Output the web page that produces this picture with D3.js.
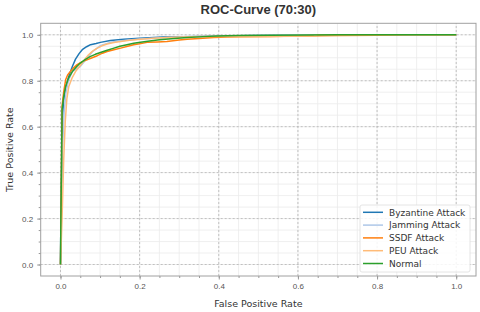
<!DOCTYPE html>
<html>
<head>
<meta charset="utf-8">
<script src="https://cdn.jsdelivr.net/npm/d3@7"></script>
<style>
  body { margin: 0; background: #fff; }
  svg { font-family: "DejaVu Sans", sans-serif; }
</style>
</head>
<body>
<div id="chart"></div>
<script>
// series names + colours
var names = ['Byzantine Attack', 'Jamming Attack', 'SSDF Attack', 'PEU Attack', 'Normal'];
var colours = ['#1f77b4', '#aec7e8', '#ff7f0e', '#ffbb78', '#2ca02c'];

var byz_fpr = [0, 0.001, 0.003, 0.005, 0.008, 0.013, 0.021, 0.03, 0.038, 0.047, 0.055, 0.066, 0.076, 0.09, 0.101, 0.126, 0.16, 0.2, 0.26, 0.35, 0.45, 0.55, 0.7, 1.0];
var byz_tpr = [0, 0.2, 0.45, 0.62, 0.717, 0.77, 0.82, 0.862, 0.894, 0.918, 0.935, 0.948, 0.957, 0.962, 0.967, 0.975, 0.981, 0.985, 0.99, 0.993, 0.996, 0.998, 1.0, 1.0];

var jam_fpr = [0, 0.002, 0.005, 0.009, 0.014, 0.02, 0.03, 0.04, 0.05, 0.067, 0.08, 0.1, 0.126, 0.16, 0.2, 0.27, 0.35, 0.45, 0.6, 1.0];
var jam_tpr = [0, 0.25, 0.5, 0.66, 0.75, 0.8, 0.84, 0.852, 0.862, 0.898, 0.925, 0.952, 0.967, 0.975, 0.982, 0.988, 0.993, 0.996, 1.0, 1.0];

var ssdf_fpr = [0, 0.002, 0.004, 0.008, 0.013, 0.018, 0.025, 0.033, 0.042, 0.054, 0.067, 0.08, 0.093, 0.106, 0.118, 0.135, 0.152, 0.17, 0.185, 0.2, 0.219, 0.245, 0.269, 0.3, 0.32, 0.36, 0.387, 0.42, 0.455, 0.53, 0.6, 0.7, 0.8, 0.876, 1.0];
var ssdf_tpr = [0, 0.3, 0.69, 0.75, 0.804, 0.825, 0.84, 0.856, 0.87, 0.882, 0.891, 0.9, 0.909, 0.92, 0.927, 0.935, 0.942, 0.95, 0.957, 0.961, 0.967, 0.969, 0.971, 0.977, 0.981, 0.985, 0.988, 0.99, 0.991, 0.993, 0.995, 0.997, 0.998, 1.0, 1.0];

var peu_fpr = [0, 0.004, 0.008, 0.012, 0.016, 0.021, 0.03, 0.038, 0.047, 0.055, 0.063, 0.071, 0.082, 0.093, 0.105, 0.118, 0.135, 0.152, 0.175, 0.202, 0.235, 0.269, 0.31, 0.354, 0.45, 0.53, 0.64, 0.65, 1.0];
var peu_tpr = [0, 0.2, 0.45, 0.62, 0.72, 0.775, 0.815, 0.84, 0.86, 0.877, 0.897, 0.913, 0.93, 0.942, 0.952, 0.96, 0.966, 0.971, 0.976, 0.981, 0.985, 0.988, 0.99, 0.992, 0.993, 0.993, 0.995, 1.0, 1.0];

var norm_fpr = [0, 0.001, 0.003, 0.004, 0.008, 0.013, 0.02, 0.03, 0.04, 0.05, 0.063, 0.076, 0.088, 0.101, 0.118, 0.135, 0.15, 0.168, 0.185, 0.202, 0.225, 0.25, 0.28, 0.32, 0.36, 0.396, 0.45, 0.53, 0.7, 1.0];
var norm_tpr = [0, 0.2, 0.5, 0.674, 0.73, 0.775, 0.81, 0.84, 0.86, 0.877, 0.893, 0.906, 0.915, 0.923, 0.933, 0.942, 0.95, 0.957, 0.963, 0.968, 0.973, 0.978, 0.983, 0.988, 0.992, 0.995, 0.997, 0.998, 1.0, 1.0];

var major_ticks = [0, 0.2, 0.4, 0.6, 0.8, 1.0];
var minor_ticks = d3.range(0, 22).map(i => i * 0.05).filter(v => v <= 1.0001);

var all_fpr = [byz_fpr, jam_fpr, ssdf_fpr, peu_fpr, norm_fpr];
var all_tpr = [byz_tpr, jam_tpr, ssdf_tpr, peu_tpr, norm_tpr];

var width = 480, height = 312;
var margin = { top: 23.3, right: 4, bottom: 36, left: 40.7 };

var svg = d3.select('#chart').append('svg')
    .attr('width', width)
    .attr('height', height);

var x = d3.scaleLinear()
    .domain([-0.05, 1.05])
    .range([margin.left, width - margin.right]);
var y = d3.scaleLinear()
    .domain([-0.05, 1.05])
    .range([height - margin.bottom, margin.top]);

// minor grid
svg.append('g').selectAll('line.mx')
    .data(minor_ticks).enter().append('line')
    .attr('x1', d => x(d)).attr('x2', d => x(d))
    .attr('y1', y.range()[0]).attr('y2', y.range()[1])
    .attr('stroke', '#ebebeb').attr('stroke-width', 0.8);
svg.append('g').selectAll('line.my')
    .data(minor_ticks).enter().append('line')
    .attr('y1', d => y(d)).attr('y2', d => y(d))
    .attr('x1', x.range()[0]).attr('x2', x.range()[1])
    .attr('stroke', '#ebebeb').attr('stroke-width', 0.8);

// major grid (dashed)
svg.append('g').selectAll('line')
    .data(major_ticks).enter().append('line')
    .attr('x1', d => x(d)).attr('x2', d => x(d))
    .attr('y1', y.range()[0]).attr('y2', y.range()[1])
    .attr('stroke', '#b4b4b4').attr('stroke-width', 0.8)
    .attr('stroke-dasharray', '2,2');
svg.append('g').selectAll('line')
    .data(major_ticks).enter().append('line')
    .attr('y1', d => y(d)).attr('y2', d => y(d))
    .attr('x1', x.range()[0]).attr('x2', x.range()[1])
    .attr('stroke', '#b4b4b4').attr('stroke-width', 0.8)
    .attr('stroke-dasharray', '2,2');

// axes
var fmt = d3.format('.1f');
svg.append('g')
    .attr('transform', `translate(0,${y.range()[0]})`)
    .call(d3.axisBottom(x).tickValues(major_ticks).tickFormat(fmt).tickSize(3.5).tickPadding(4));
svg.append('g')
    .attr('transform', `translate(0,${y.range()[0]})`)
    .call(d3.axisBottom(x).tickValues(minor_ticks).tickFormat('').tickSize(2));
svg.append('g')
    .attr('transform', `translate(${x.range()[0]},0)`)
    .call(d3.axisLeft(y).tickValues(major_ticks).tickFormat(fmt).tickSize(3.5).tickPadding(4));
svg.append('g')
    .attr('transform', `translate(${x.range()[0]},0)`)
    .call(d3.axisLeft(y).tickValues(minor_ticks).tickFormat('').tickSize(2));

svg.selectAll('.tick line').attr('stroke', '#999');
svg.selectAll('.tick text').attr('fill', '#555').style('font-size', '8px');
svg.selectAll('.domain').remove();

// frame
svg.append('rect')
    .attr('x', x.range()[0]).attr('y', y.range()[1])
    .attr('width', x.range()[1] - x.range()[0])
    .attr('height', y.range()[0] - y.range()[1])
    .attr('fill', 'none').attr('stroke', '#a0a0a0').attr('stroke-width', 1);

svg.append('clipPath').attr('id', 'clip')
  .append('rect')
    .attr('x', x.range()[0]).attr('y', y.range()[1])
    .attr('width', x.range()[1] - x.range()[0])
    .attr('height', y.range()[0] - y.range()[1]);

var line = d3.line()
    .x(d => x(d[0]))
    .y(d => y(d[1]));

names.forEach(function(n, i) {
    var pts = all_fpr[i].map((f, j) => [f, all_tpr[i][j]]);
    svg.append('path')
        .datum(pts)
        .attr('clip-path', 'url(#clip)')
        .attr('d', line)
        .attr('fill', 'none')
        .attr('stroke', colours[i])
        .attr('stroke-width', 1.5)
        .attr('stroke-linejoin', 'round');
});

// title and labels
svg.append('text')
    .attr('x', (x.range()[0] + x.range()[1]) / 2)
    .attr('y', 14)
    .attr('text-anchor', 'middle')
    .attr('fill', '#333')
    .style('font-family', '"Liberation Sans", Arial, sans-serif')
    .style('font-size', '13px')
    .style('font-weight', 'bold')
    .text('ROC-Curve (70:30)');

svg.append('text')
    .attr('x', (x.range()[0] + x.range()[1]) / 2)
    .attr('y', 307)
    .attr('text-anchor', 'middle')
    .attr('fill', '#333')
    .style('font-size', '9.5px')
    .text('False Positive Rate');

svg.append('text')
    .attr('transform', `translate(13,${(y.range()[0] + y.range()[1]) / 2}) rotate(-90)`)
    .attr('text-anchor', 'middle')
    .attr('fill', '#333')
    .style('font-size', '9.5px')
    .text('True Positive Rate');

// legend
var lg = svg.append('g');
lg.append('rect')
    .attr('x', 360).attr('y', 205)
    .attr('width', 110).attr('height', 67)
    .attr('rx', 2)
    .attr('fill', 'white').attr('fill-opacity', 0.85)
    .attr('stroke', '#ddd').attr('stroke-width', 0.8);
names.forEach(function(n, i) {
    var yy = 212.3 + i * 12.8;
    lg.append('line')
        .attr('x1', 363).attr('x2', 383)
        .attr('y1', yy).attr('y2', yy)
        .attr('stroke', colours[i]).attr('stroke-width', 1.5);
    lg.append('text')
        .attr('x', 389).attr('y', yy + 3.3)
        .attr('fill', '#333')
        .style('font-size', '9px')
        .text(n);
});
</script>
</body>
</html>
